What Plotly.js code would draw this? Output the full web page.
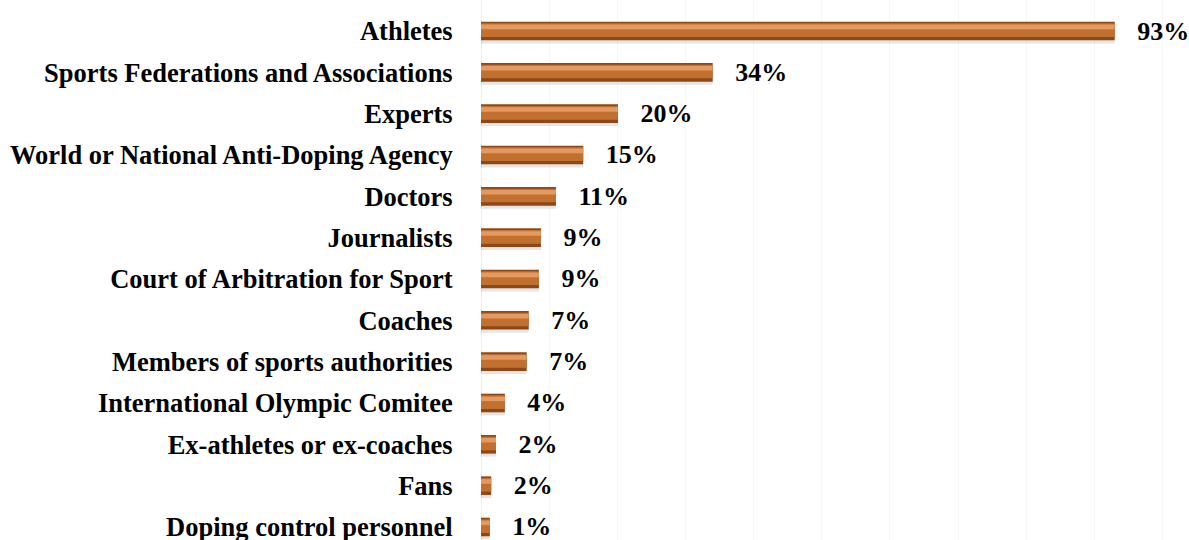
<!DOCTYPE html>
<html>
<head>
<meta charset="utf-8">
<script src="https://cdn.plot.ly/plotly-3.0.1.min.js"></script>
<style>html,body{margin:0;padding:0;background:#fff;}#chart{width:1189px;height:540px;}</style>
</head>
<body>
<div id="chart"></div>
<script>
const categories = [
  "Athletes",
  "Sports Federations and Associations",
  "Experts",
  "World or National Anti-Doping Agency",
  "Doctors",
  "Journalists",
  "Court of Arbitration for Sport",
  "Coaches",
  "Members of sports authorities",
  "International Olympic Comitee",
  "Ex-athletes or ex-coaches",
  "Fans",
  "Doping control personnel"
];
const values = [93, 34, 20.1, 15, 11, 8.8, 8.5, 7, 6.7, 3.5, 2.2, 1.5, 1.3];
const valueLabels = ["93%", "34%", "20%", "15%", "11%", "9%", "9%", "7%", "7%", "4%", "2%", "2%", "1%"];

const pad = "\u00a0\u00a0\u00a0";
const serif = "Liberation Serif, Times New Roman, serif";

const shadow = {
  type: "bar", orientation: "h", x: values, y: categories,
  width: 0.1, offset: 0.2,
  marker: {color: "rgba(0,0,0,0.10)", line: {width: 0}},
  hoverinfo: "skip", showlegend: false
};
const base = {
  type: "bar", orientation: "h", x: values, y: categories,
  width: 0.45, offset: -0.225,
  marker: {color: "#8E4716", line: {width: 0}},
  text: valueLabels.map(s => pad + s), textposition: "outside", cliponaxis: false,
  constraintext: "none",
  outsidetextfont: {family: serif, size: 26, color: "#000", weight: "bold"},
  textfont: {family: serif, size: 26, color: "#000", weight: "bold"},
  hoverinfo: "skip", showlegend: false
};
const mid = {
  type: "bar", orientation: "h", x: values, y: categories,
  width: 0.33, offset: -0.185,
  marker: {color: "#C2702F", line: {width: 0}},
  hoverinfo: "skip", showlegend: false
};
const hi = {
  type: "bar", orientation: "h", x: values, y: categories,
  width: 0.11, offset: -0.155,
  marker: {color: "#E39A62", line: {width: 0}},
  hoverinfo: "skip", showlegend: false
};

const layout = {
  width: 1189, height: 540,
  margin: {l: 481, r: 0, t: 0, b: 0},
  barmode: "overlay",
  paper_bgcolor: "#fff", plot_bgcolor: "#fff",
  xaxis: {range: [0, 103.9], showgrid: true, gridcolor: "#f6f6f6", dtick: 10,
          showticklabels: false, zeroline: true, zerolinecolor: "#eeeeee", showline: false, fixedrange: true},
  yaxis: {type: "category", categoryorder: "array", categoryarray: categories,
          range: [12.315, -0.75], showgrid: false, showline: false, zeroline: false,
          ticks: "outside", ticklen: 22, tickcolor: "rgba(0,0,0,0)",
          tickfont: {family: serif, size: 26.5, color: "#000", weight: "bold"}}
};

Plotly.newPlot("chart", [shadow, base, mid, hi], layout, {staticPlot: true, displayModeBar: false});
</script>
</body>
</html>
